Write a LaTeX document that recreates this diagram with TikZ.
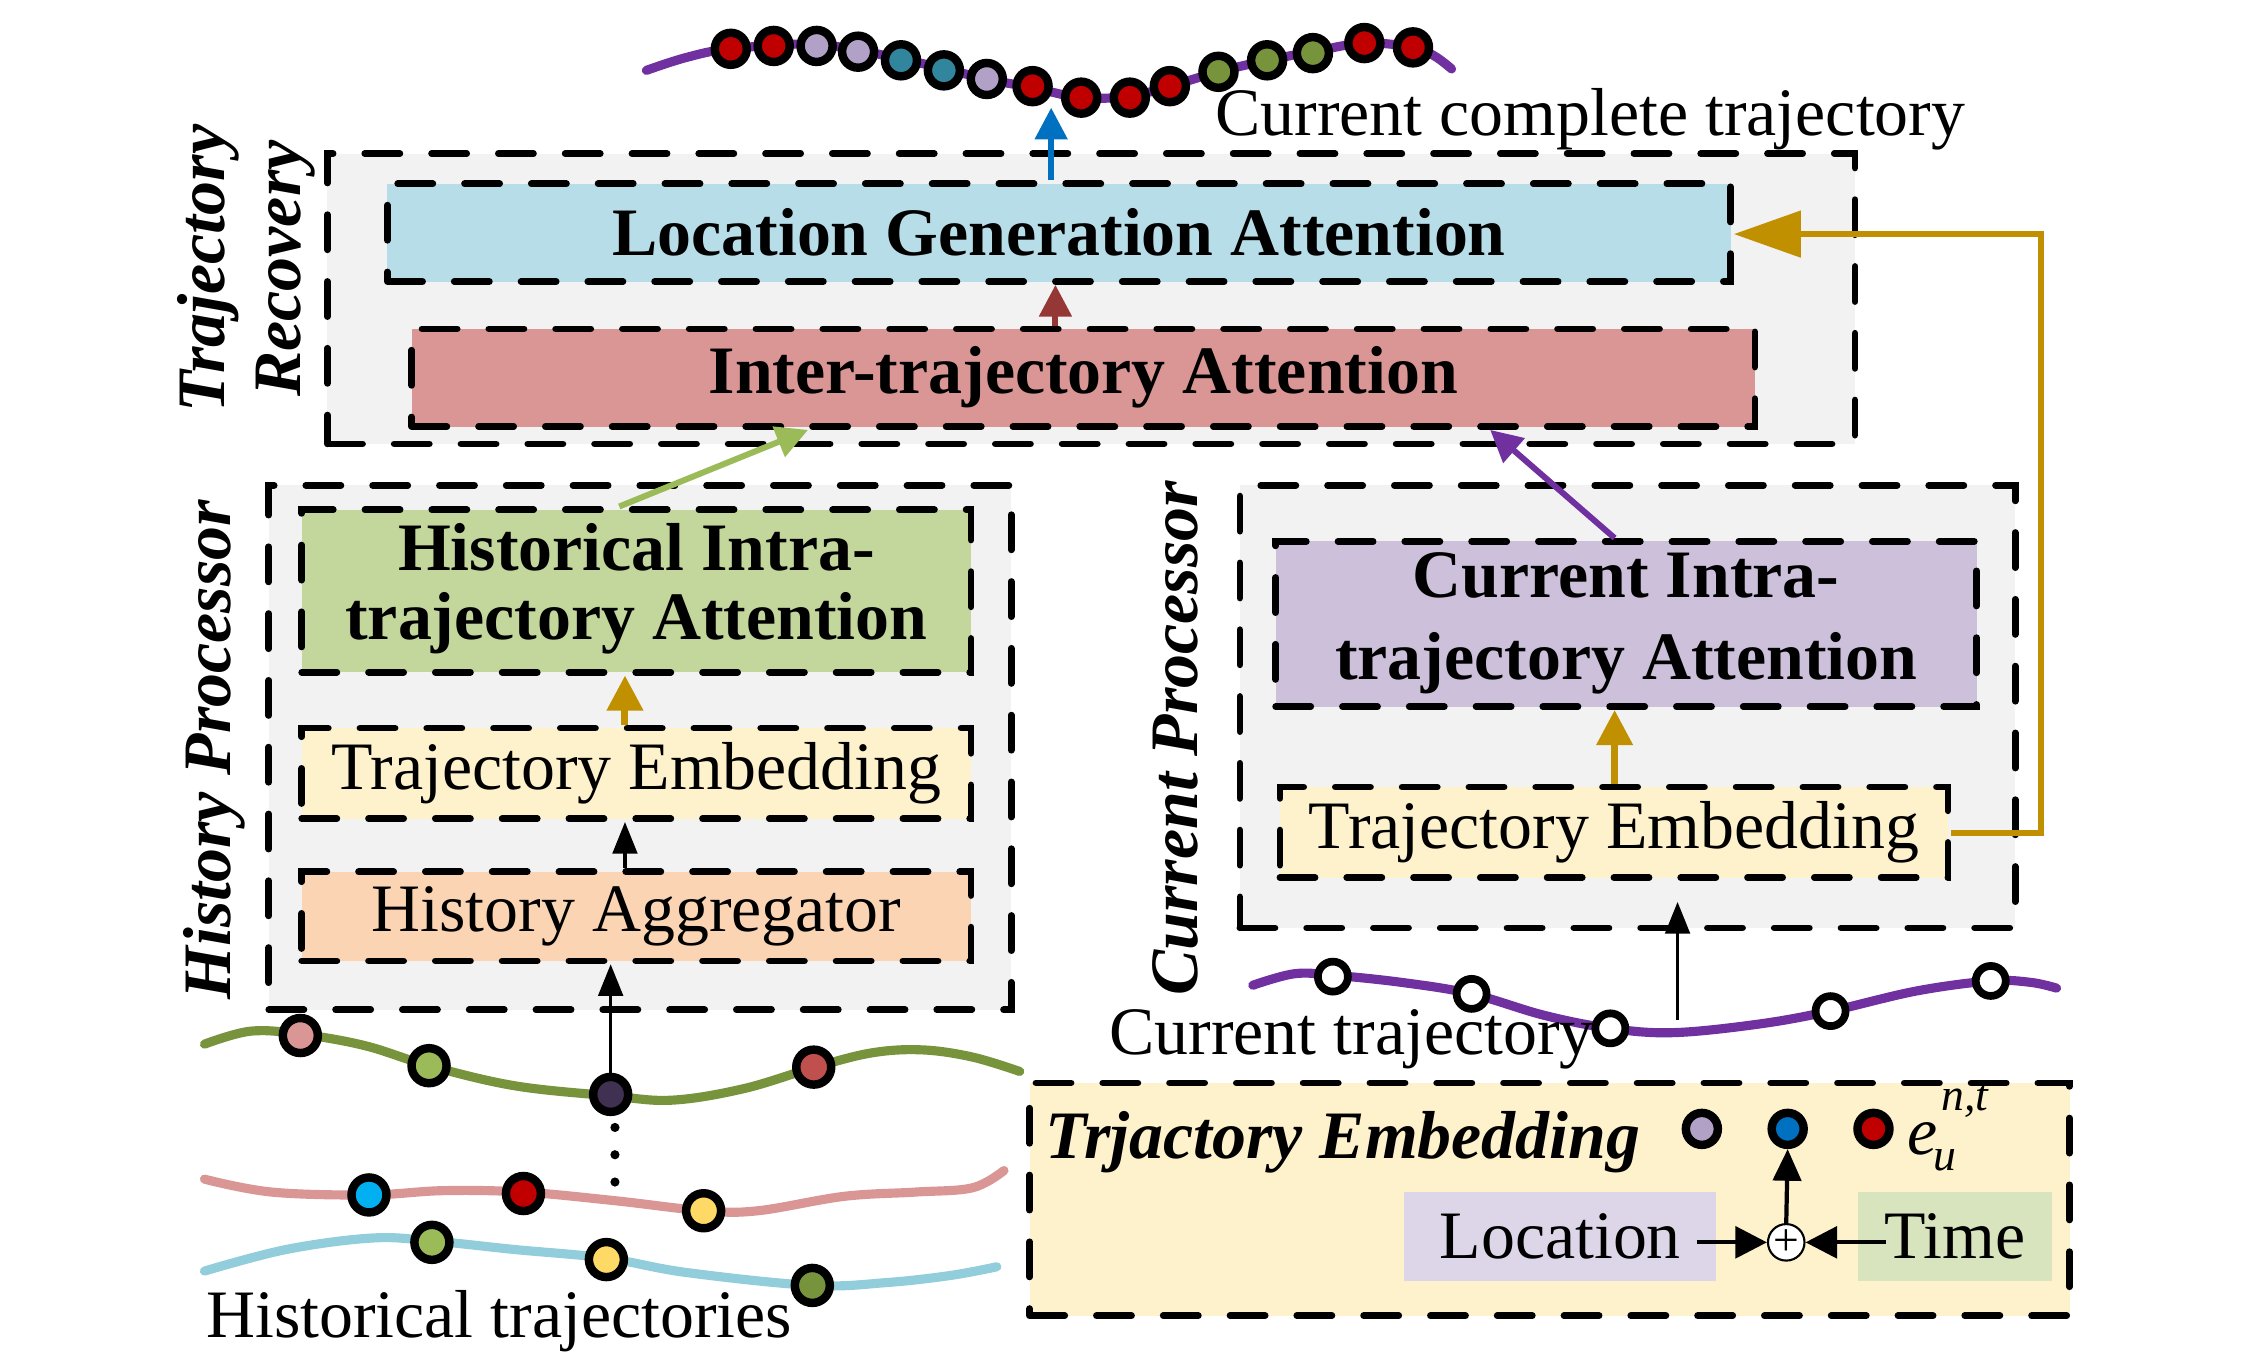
\documentclass[tikz,border=0pt]{standalone}
\usepackage{fontspec}
\setmainfont{Liberation Serif}
\usetikzlibrary{arrows.meta,calc}
\definecolor{bggray}{HTML}{F2F2F2}
\definecolor{lgablue}{HTML}{B7DEE8}
\definecolor{itared}{HTML}{DA9694}
\definecolor{hiagreen}{HTML}{C3D69B}
\definecolor{teyellow}{HTML}{FEF2CC}
\definecolor{hapeach}{HTML}{FBD4B4}
\definecolor{cialav}{HTML}{CCC0DA}
\definecolor{loclav}{HTML}{DDD6E8}
\definecolor{timegreen}{HTML}{D7E4BD}
\definecolor{trpurple}{HTML}{7030A0}
\definecolor{gold}{HTML}{C09000}
\definecolor{cred}{HTML}{C00000}
\definecolor{clav}{HTML}{B2A1C7}
\definecolor{cteal}{HTML}{31859C}
\definecolor{colive}{HTML}{77933C}
\definecolor{cgreen}{HTML}{9BBB59}
\definecolor{cdark}{HTML}{403152}
\definecolor{cbrick}{HTML}{C0504D}
\definecolor{ccyan}{HTML}{00B0F0}
\definecolor{cyellow}{HTML}{FFD966}
\definecolor{cpink}{HTML}{DA9694}
\definecolor{cltblue}{HTML}{92CDDC}
\definecolor{cblue}{HTML}{0070C0}
\definecolor{darkred}{HTML}{953735}
\tikzset{
  dbox/.style={draw=black, line width=1.9pt, dash pattern=on 10pt off 9pt, line cap=round, inner sep=0pt},
  dot/.style={circle, draw=black, line width=2.4pt, fill=#1, minimum size=0.32cm, inner sep=0pt},
  hdot/.style={circle, draw=black, line width=2.4pt, fill=#1, minimum size=0.35cm, inner sep=0pt},
  wdot/.style={circle, draw=black, line width=2.2pt, fill=white, minimum size=0.30cm, inner sep=0pt},
  tnorm/.style={font=\fontsize{19.3}{23}\selectfont, inner sep=0pt},
  tbold/.style={font=\fontsize{19.3}{23}\selectfont\bfseries, inner sep=0pt},
  tbi/.style={font=\fontsize{19.3}{21.7}\selectfont\bfseries\itshape, inner sep=0pt},
  traj/.style={line width=2.6pt, line cap=round},
  blackarrow/.style={draw=black, line width=0.9pt, -{Triangle[length=9pt,width=7pt]}},
  colarrow/.style={draw=#1, line width=1.7pt, -{Triangle[length=9pt,width=9pt]}},
}
\begin{document}
\begin{tikzpicture}[x=0.0143cm,y=-0.014365cm]
\useasboundingbox (0,0) rectangle (1567,949);

% ---------- outer group boxes ----------
\node[dbox, fill=bggray, minimum width=15.272cm, minimum height=2.902cm] (TR) at (763,208) {};
\node[dbox, fill=bggray, minimum width=7.422cm, minimum height=5.243cm] (HP) at (447.5,520.5) {};
\node[dbox, fill=bggray, minimum width=7.751cm, minimum height=4.424cm] (CP) at (1138,492) {};

% ---------- inner boxes ----------
\node[dbox, tbold, fill=lgablue, minimum width=13.428cm, minimum height=0.977cm] (LGA) at (740.5,162) {Location Generation Attention};
\node[dbox, tbold, fill=itared, minimum width=13.428cm, minimum height=0.977cm] (ITA) at (757.5,263) {Inter-trajectory Attention};
\node[dbox, fill=hiagreen, minimum width=6.692cm, minimum height=1.623cm] (HIA) at (445,411.5) {};
\node[tbold, align=center, font=\fontsize{19.3}{19.8}\selectfont\bfseries] (HIAt) at (445,410) {Historical Intra-\\trajectory Attention};
\node[dbox, tnorm, fill=teyellow, minimum width=6.692cm, minimum height=0.905cm] (TE1) at (445,538.5) {Trajectory Embedding};
\node[dbox, tnorm, fill=hapeach, minimum width=6.692cm, minimum height=0.891cm] (HA) at (445,638) {History Aggregator};
\node[dbox, fill=cialav, minimum width=7.007cm, minimum height=1.652cm] (CIA) at (1137,434.5) {};
\node[tbold, align=center, font=\fontsize{19.3}{23.4}\selectfont\bfseries] (CIAt) at (1137,434) {Current Intra-\\trajectory Attention};
\node[dbox, tnorm, fill=teyellow, minimum width=6.678cm, minimum height=0.905cm] (TE2) at (1128.5,579.5) {Trajectory Embedding};

% ---------- group labels ----------
\node[tbi, rotate=90, align=center] (TRl) at (172,187) {Trajectory\\Recovery};
\node[tbi, rotate=90] (HPl) at (150,522) {History Processor};
\node[tbi, rotate=90] (CPl) at (822,514) {Current Processor};

% ---------- arrows between modules ----------
\coordinate (topend) at (735,75);
\draw[colarrow=cblue] (LGA.north -| topend) -- (topend);
\draw[colarrow=darkred] ($(ITA.north)+(-19.5,0)$) -- ($(LGA.south)+(-2.5,0)$);
\draw[colarrow=cgreen] ($(HIA.north)+(-12,0)$) -- ($(ITA.south)+(-192.5,0)$);
\draw[colarrow=trpurple] ($(CIA.north)+(-8,0)$) -- ($(ITA.south)+(284.5,0)$);
\draw[draw=gold, line width=2pt, -{Triangle[length=10pt,width=10pt]}] ($(TE1.north)+(-8,0)$) -- ($(HIA.south)+(-8,0)$);
\draw[draw=gold, line width=2pt, -{Triangle[length=10pt,width=10pt]}] ($(TE2.north)+(0.5,0)$) -- ($(CIA.south)+(-8,0)$);
\draw[blackarrow] ($(HA.north)+(-8,0)$) -- ($(TE1.south)+(-8,0)$);
\coordinate (fbA) at (1427,580);
\coordinate (fbB) at (1427,163);
\draw[draw=gold, line width=1.6pt, -{Triangle[length=19pt,width=13pt]}] (TE2.east |- fbA) -- (fbA) -- (fbB) -- (LGA.east |- fbB);

% ---------- current complete trajectory ----------
\draw[traj, trpurple] plot[smooth, tension=0.6] coordinates {(452,49) (480,40) (511,34) (571,31) (630,41) (690,55) (722,61) (756,68) (790,67) (818,60) (852,50) (886,42) (918,36) (954,30) (988,33) (1003,39) (1015,48)};
\foreach \x/\y/\c [count=\i] in {511/34/cred, 541/32/cred, 571/32/clav, 600/36/clav, 630/42/cteal, 660/49/cteal, 690/55/clav, 722/60/cred, 756/68/cred, 790/68/cred, 818/60/cred, 852/50/colive, 886/42/colive, 918/37/colive, 954/30/cred, 988/33/cred}
  \node[dot=\c] (ct\i) at (\x,\y) {};
\node[tnorm] (ctlabel) at (1112,83) {Current complete trajectory};

% ---------- current trajectory ----------
\draw[traj, trpurple] plot[smooth, tension=0.6] coordinates {(876,686) (905,678) (932,679) (980,684) (1029,692) (1080,707) (1126,716) (1170,719) (1230,713) (1280,704) (1340,690) (1392,683) (1420,684) (1438,688)};
\foreach \x/\y [count=\i] in {932/680, 1029/692, 1126/716, 1280/704, 1392/683}
  \node[wdot] (cu\i) at (\x,\y) {};
\node[tnorm] (culabel) at (945,724) {Current trajectory};
\coordinate (cpin) at (1173,628);
\draw[blackarrow] (1173,710) -- (cpin);

% ---------- historical trajectories ----------
\draw[traj, colive] plot[smooth, tension=0.6] coordinates {(143,727) (175,718) (210,720) (255,728) (300,742) (360,756) (427,763) (470,766) (520,758) (570,743) (610,733) (645,731) (680,736) (713,746)};
\draw[traj, cpink] plot[smooth, tension=0.6] coordinates {(143,821) (190,830) (258,832) (310,829) (366,830) (430,836) (492,843) (530,843) (590,833) (640,830) (680,827) (702,815)};
\draw[traj, cltblue] plot[smooth, tension=0.6] coordinates {(143,885) (200,870) (260,862) (302,864) (360,870) (424,876) (480,886) (568,895) (620,893) (665,888) (697,882)};
\node[hdot=cpink] (h1) at (210,721) {};
\node[hdot=cgreen] (h2) at (300,742) {};
\node[hdot=cdark] (h3) at (427,762) {};
\node[hdot=cbrick] (h4) at (569,743) {};
\node[hdot=ccyan] (h5) at (258,832) {};
\node[hdot=cred] (h6) at (366,831) {};
\node[hdot=cyellow] (h7) at (492,843) {};
\node[hdot=cgreen] (h8) at (302,865) {};
\node[hdot=cyellow] (h9) at (424,877) {};
\node[hdot=colive] (h10) at (568,895) {};
\foreach \y in {785,804,823} \fill (430,\y) circle (3.2);
\draw[blackarrow] (h3.north) -- (h3.north |- HA.south);
\node[tnorm] (hlabel) at (349,920) {Historical trajectories};

% ---------- trajectory embedding detail ----------
\node[dbox, fill=teyellow, minimum width=10.396cm, minimum height=2.327cm] (EMB) at (1083.5,835) {};
\node[tbi] (EMBt) at (939,795) {Trjactory Embedding};
\node[dot=clav] (e1) at (1190,786) {};
\node[dot=cblue] (e2) at (1250,786) {};
\node[dot=cred] (e3) at (1310,786) {};
\node[font=\fontsize{19.3}{23}\selectfont\itshape, inner sep=0pt] (eu) at (1344,793) {e};
\node[font=\fontsize{13}{14}\selectfont\itshape, inner sep=0pt] (eunt) at (1374,767) {n,t};
\node[font=\fontsize{13}{14}\selectfont\itshape, inner sep=0pt] (euu) at (1360,808) {u};
\node[tnorm, fill=loclav, minimum width=3.118cm, minimum height=0.891cm] (LOC) at (1091,861) {Location};
\node[tnorm, fill=timegreen, minimum width=1.945cm, minimum height=0.891cm] (TIME) at (1367,861) {Time};
\node[circle, draw=black, line width=0.6pt, fill=white, minimum size=0.30cm, inner sep=0pt, font=\fontsize{13}{13}\selectfont] (plus) at (1249,865) {+};
\draw[draw=black, line width=1.2pt, -{Triangle[length=9pt,width=9pt]}] ($(LOC.east |- plus)+(-14,0)$) -- (plus.west);
\draw[draw=black, line width=1.2pt, -{Triangle[length=9pt,width=9pt]}] ($(TIME.west |- plus)+(20,0)$) -- (plus.east);
\draw[draw=black, line width=1.2pt, -{Triangle[length=9pt,width=8pt]}] (plus.north) -- (e2.south);
\end{tikzpicture}
\end{document}
